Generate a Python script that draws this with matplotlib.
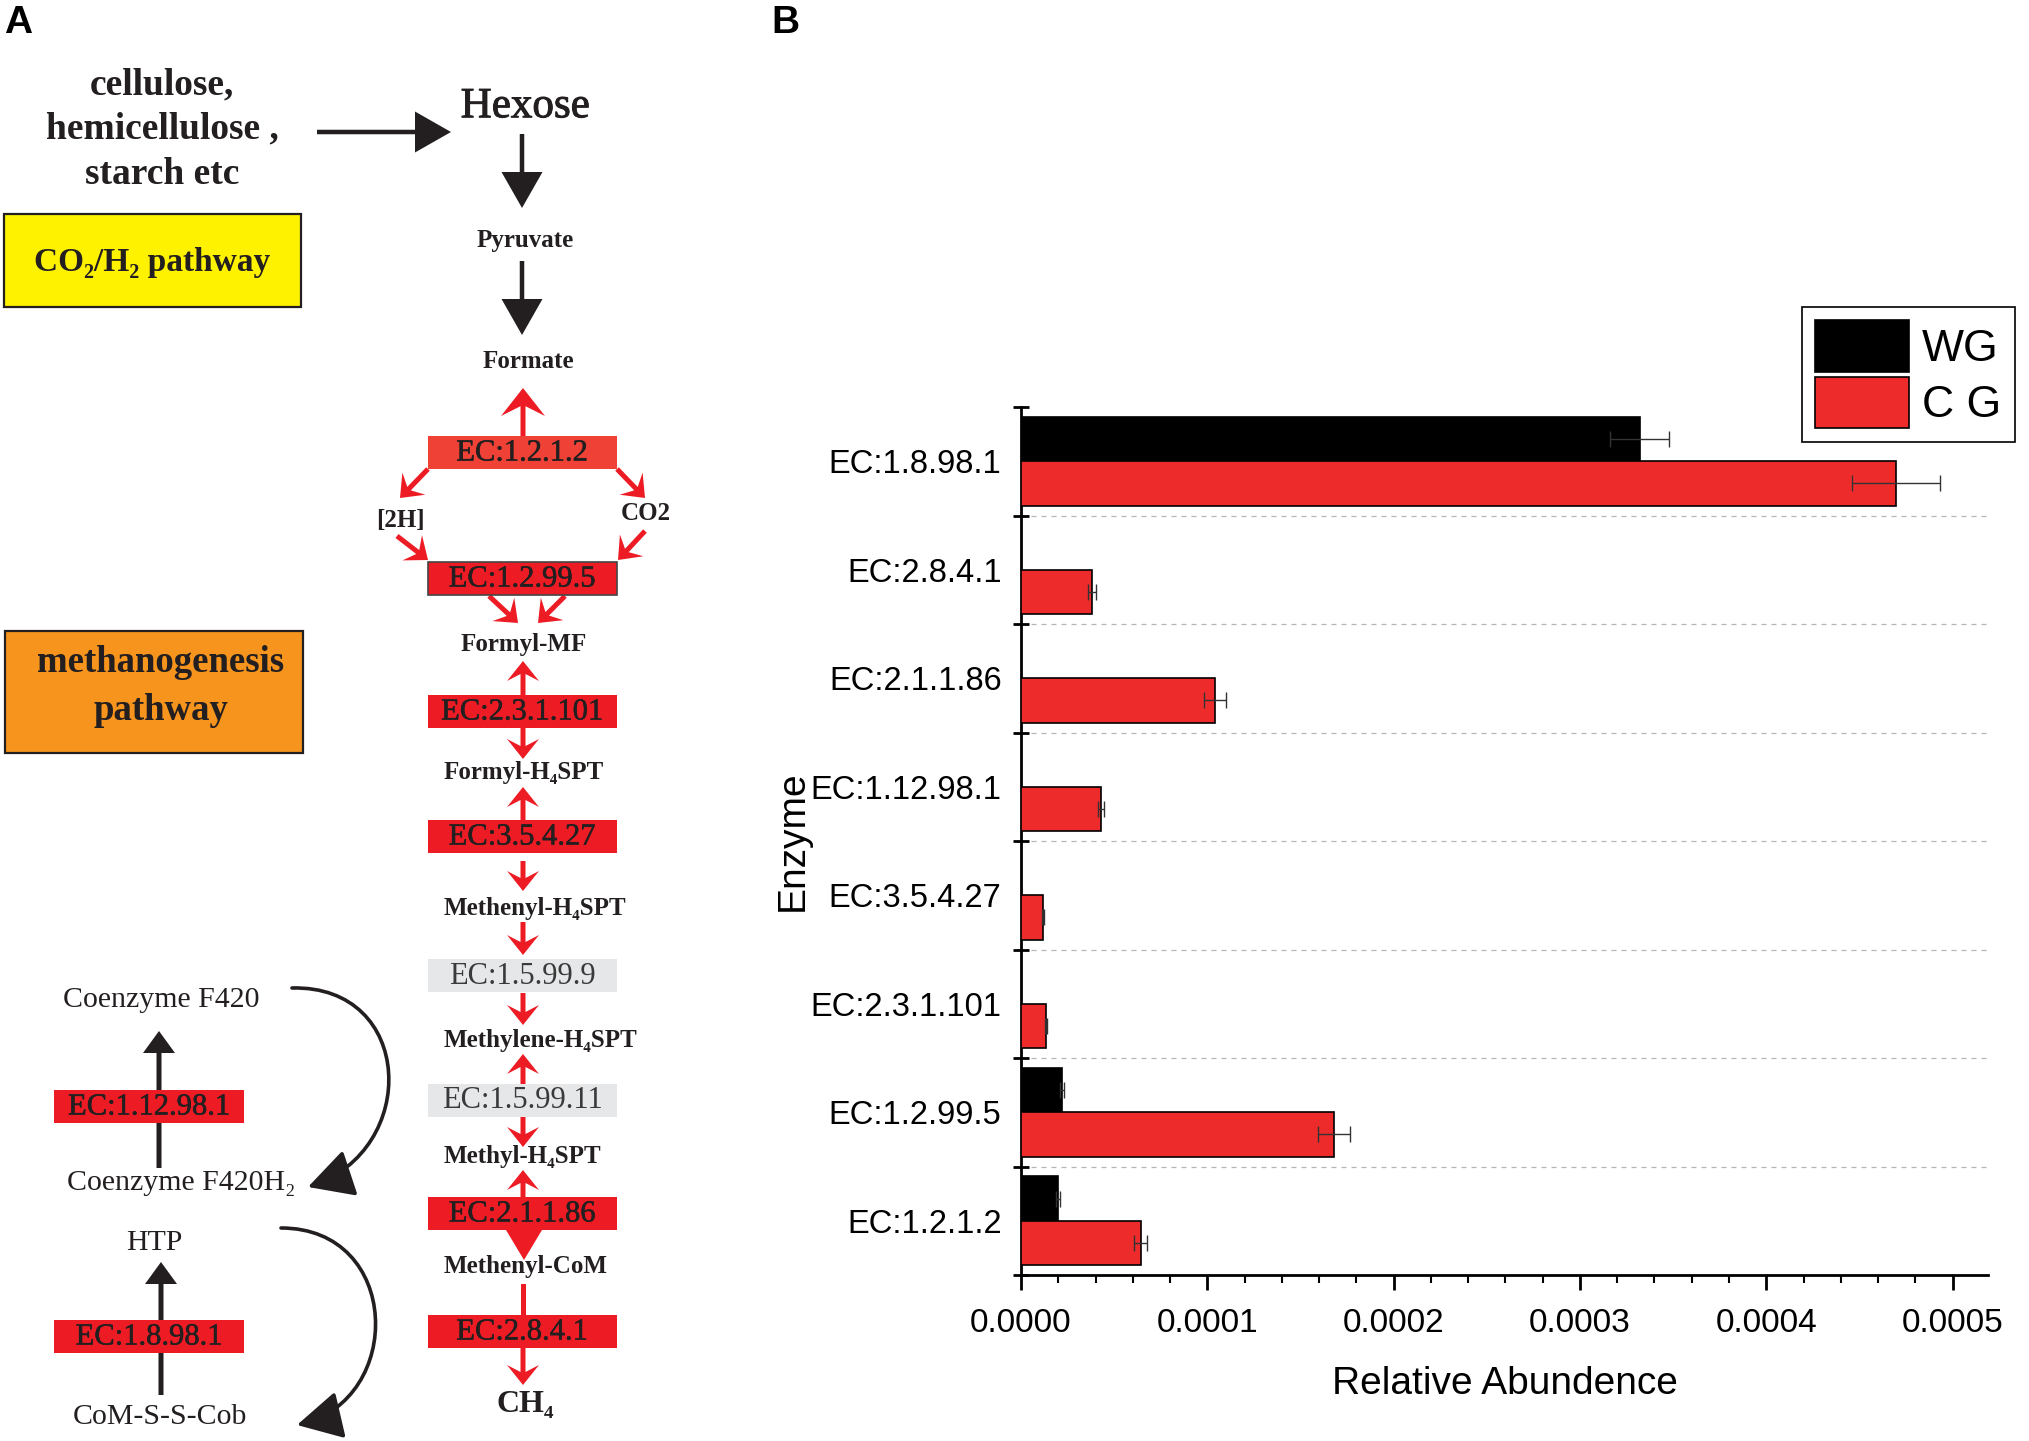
import numpy as np
import matplotlib
matplotlib.use('Agg')
import matplotlib.pyplot as plt
import matplotlib.patheffects as pe
from matplotlib.patches import Rectangle, Polygon, FancyArrowPatch, ArrowStyle
from matplotlib.path import Path
from matplotlib.ticker import MultipleLocator

plt.rcParams['font.family'] = ['Liberation Sans', 'DejaVu Sans']
SERIF = ['Liberation Serif', 'DejaVu Serif']

# ---- panel B data (listed bottom to top) ----
enzymes = ['EC:1.2.1.2', 'EC:1.2.99.5', 'EC:2.3.1.101', 'EC:3.5.4.27',
           'EC:1.12.98.1', 'EC:2.1.1.86', 'EC:2.8.4.1', 'EC:1.8.98.1']
wg = np.array([0.0000197, 0.0000222, 0, 0, 0, 0, 0, 0.000332])
wg_err = np.array([0.000001, 0.000001, 0, 0, 0, 0, 0, 0.000016])
cg = np.array([0.0000642, 0.000168, 0.0000132, 0.0000118,
               0.0000429, 0.000104, 0.0000381, 0.0004695])
cg_err = np.array([0.0000036, 0.0000088, 0.0000005, 0.0000005,
                   0.0000014, 0.0000059, 0.000002, 0.0000236])
groups = ['WG', 'C G']
group_colors = ['#000000', '#ee2b2b']
xticks = [0, 0.0001, 0.0002, 0.0003, 0.0004, 0.0005]
xtick_labels = ['0.0000', '0.0001', '0.0002', '0.0003', '0.0004', '0.0005']

# ---- panel A labels ----
chain_boxes = ['EC:1.2.1.2', 'EC:1.2.99.5', 'EC:2.3.1.101', 'EC:3.5.4.27',
               'EC:1.5.99.9', 'EC:1.5.99.11', 'EC:2.1.1.86', 'EC:2.8.4.1']
chain_colors = ['#ef4136', '#ed1c24', '#ed1c24', '#ed1c24',
                '#e6e7e8', '#e6e7e8', '#ed1c24', '#ed1c24']
chain_tops = [436, 562, 695, 820, 959, 1084, 1197, 1315]
chain_nodes = ['Formyl-H₄SPT', 'Methenyl-H₄SPT', 'Methylene-H₄SPT',
               'Methyl-H₄SPT', 'Methenyl-CoM']
chain_node_y = [773, 908, 1040, 1156, 1267]
side_boxes = ['EC:1.12.98.1', 'EC:1.8.98.1']
side_tops = [1090, 1320]
side_labels = ['Coenzyme F420', 'Coenzyme F420H₂', 'HTP', 'CoM-S-S-Cob']
side_label_pos = [(161, 1000), (181, 1183), (154, 1243), (160, 1417)]

W, H = 2029, 1441
RED = '#ed1c24'
DARK = '#231f20'

fig = plt.figure(figsize=(W / 100, H / 100), dpi=100)

# diagram drawn in pixel coordinates
axd = fig.add_axes([0, 0, 1, 1])
axd.set_xlim(0, W)
axd.set_ylim(H, 0)
axd.axis('off')


def red_arrow(x0, y0, x1, y1, hw=32, hl=20):
    axd.arrow(x0, y0, x1 - x0, y1 - y0, width=5, head_width=hw, head_length=hl,
              overhang=0.35, length_includes_head=True, color=RED, lw=0)


def black_arrow(x0, y0, x1, y1, w=4.5, hw=41, hl=36):
    axd.arrow(x0, y0, x1 - x0, y1 - y0, width=w, head_width=hw, head_length=hl,
              length_includes_head=True, color=DARK, lw=0)


def curved_arrow(pts):
    path = Path(pts, [Path.MOVETO, Path.CURVE4, Path.CURVE4, Path.CURVE4])
    arr = FancyArrowPatch(path=path, transform=axd.transData,
                          arrowstyle=ArrowStyle('-|>', head_length=28, head_width=15),
                          mutation_scale=1, color=DARK, lw=2.6)
    axd.add_patch(arr)


heavy = [pe.withStroke(linewidth=0.4, foreground=DARK)]

# panel letters
axd.text(4, 23, 'A', fontsize=28, fontweight='bold', ha='left', va='center')
axd.text(771, 23, 'B', fontsize=28, fontweight='bold', ha='left', va='center')

# top part
for txt, yy in zip(['cellulose,', 'hemicellulose ,', 'starch etc'], [85, 129, 174]):
    axd.text(162, yy, txt, fontsize=27, fontweight='bold', family=SERIF,
             ha='center', va='center', color=DARK)
black_arrow(317, 132, 451, 132)
axd.text(525, 107, 'Hexose', fontsize=31, family=SERIF, ha='center', va='center',
         color=DARK, path_effects=[pe.withStroke(linewidth=0.7, foreground=DARK)])
black_arrow(522, 134, 522, 208)
axd.text(525, 241, 'Pyruvate', fontsize=18, fontweight='bold', family=SERIF,
         ha='center', va='center', color=DARK)
black_arrow(522, 261, 522, 335)
axd.text(528, 362, 'Formate', fontsize=18, fontweight='bold', family=SERIF,
         ha='center', va='center', color=DARK)

# pathway boxes
axd.add_patch(Rectangle((4, 214), 297, 93, facecolor='#fff200', edgecolor=DARK, lw=1.6))
axd.text(152, 262, 'CO₂/H₂ pathway', fontsize=24, fontweight='bold', family=SERIF,
         ha='center', va='center', color=DARK)
axd.add_patch(Rectangle((5, 631), 298, 122, facecolor='#f7941d', edgecolor=DARK, lw=1.6))
axd.text(161, 663, 'methanogenesis', fontsize=26.5, fontweight='bold', family=SERIF,
         ha='center', va='center', color=DARK)
axd.text(161, 710, 'pathway', fontsize=26.5, fontweight='bold', family=SERIF,
         ha='center', va='center', color=DARK)

# red arrows of the chain (drawn under the boxes)
red_arrow(523, 436, 523, 388, hw=44, hl=28)
red_arrow(428, 469, 400, 498)
red_arrow(617, 469, 645, 498)
red_arrow(397, 536, 428, 560)
red_arrow(645, 531, 618, 560)
red_arrow(489, 596, 518, 623)
red_arrow(565, 596, 538, 623)
red_arrow(523, 695, 523, 661)
red_arrow(523, 727, 523, 759)
red_arrow(523, 820, 523, 787)
red_arrow(523, 861, 523, 891)
red_arrow(523, 922, 523, 955)
red_arrow(523, 993, 523, 1025)
red_arrow(523, 1084, 523, 1054)
red_arrow(523, 1117, 523, 1147)
red_arrow(523, 1197, 523, 1170)
axd.plot([523, 523], [1286, 1315], color=RED, lw=3.6)
red_arrow(523, 1348, 523, 1385)
axd.add_patch(Polygon([(506, 1230), (542, 1230), (524, 1260)], closed=True,
                      facecolor=RED, lw=0))

for name, col, top in zip(chain_boxes, chain_colors, chain_tops):
    edge = '#444444' if name == 'EC:1.2.99.5' else 'none'
    axd.add_patch(Rectangle((428, top), 189, 33, facecolor=col, edgecolor=edge, lw=1.2))
    grey = col == '#e6e7e8'
    if grey:
        axd.text(522, top + 17, name, fontsize=22, family=SERIF, ha='center',
                 va='center', color='#3a3a3a')
    else:
        axd.text(522, top + 17, name, fontsize=22, family=SERIF, ha='center',
                 va='center', color=DARK, path_effects=heavy)

axd.text(400, 520, '[2H]', fontsize=18, fontweight='bold', family=SERIF,
         ha='center', va='center', color=DARK)
axd.text(646, 513, 'CO2', fontsize=18, fontweight='bold', family=SERIF,
         ha='center', va='center', color=DARK)
axd.text(524, 645, 'Formyl-MF', fontsize=18, fontweight='bold', family=SERIF,
         ha='center', va='center', color=DARK)
for name, yy in zip(chain_nodes, chain_node_y):
    axd.text(444, yy, name, fontsize=18, fontweight='bold', family=SERIF,
             ha='left', va='center', color=DARK)
axd.text(525, 1405, 'CH₄', fontsize=23, fontweight='bold', family=SERIF,
         ha='center', va='center', color=DARK)

# left cycle
black_arrow(159, 1168, 159, 1031, w=5, hw=32, hl=22)
black_arrow(161, 1395, 161, 1262, w=5, hw=32, hl=22)
for name, top in zip(side_boxes, side_tops):
    axd.add_patch(Rectangle((54, top), 190, 33, facecolor=RED, lw=0))
    axd.text(149, top + 17, name, fontsize=22, family=SERIF, ha='center', va='center',
             color=DARK, path_effects=heavy)
for name, (xx, yy) in zip(side_labels, side_label_pos):
    axd.text(xx, yy, name, fontsize=21.5, family=SERIF, ha='center', va='center',
             color=DARK)
curved_arrow([(292, 988), (415, 985), (420, 1150), (308, 1187)])
curved_arrow([(281, 1228), (402, 1228), (405, 1400), (297, 1425)])

# ---- panel B: bar chart ----
ax = fig.add_axes([1021 / W, 1 - 1275 / H, 967 / W, 868 / H])
ax.patch.set_alpha(0)
y = np.arange(len(enzymes))
m = wg > 0
ax.barh(y[m] + 0.205, wg[m], height=0.41, color=group_colors[0], edgecolor='black',
        lw=1.2, label=groups[0], zorder=3)
ax.errorbar(wg[m], y[m] + 0.205, xerr=wg_err[m], fmt='none', ecolor='#333333',
            elinewidth=1, capsize=6, capthick=1, zorder=4)
ax.barh(y - 0.205, cg, height=0.41, color=group_colors[1], edgecolor='black',
        lw=1.2, label=groups[1], zorder=3)
ax.errorbar(cg, y - 0.205, xerr=cg_err, fmt='none', ecolor='#333333',
            elinewidth=1, capsize=6, capthick=1, zorder=4)

for b in np.arange(0.5, len(enzymes) - 1, 1):
    ax.axhline(b, color='#b5b5b5', lw=0.9, ls=(0, (4, 4)), zorder=1)

ax.set_xlim(0, 0.000519)
ax.set_ylim(-0.5, len(enzymes) - 0.5)
for s in ['top', 'right']:
    ax.spines[s].set_visible(False)
for s in ['left', 'bottom']:
    ax.spines[s].set_linewidth(2)

ax.set_yticks(np.arange(-0.5, len(enzymes), 1))
ax.set_yticklabels([])
ax.set_yticks(y, enzymes, minor=True)
ax.tick_params(axis='y', which='major', direction='inout', length=11.5, width=2)
ax.tick_params(axis='y', which='minor', length=0, pad=14, labelsize=23.5)
ax.set_xticks(xticks, xtick_labels)
ax.xaxis.set_minor_locator(MultipleLocator(0.00002))
ax.tick_params(axis='x', which='major', direction='out', length=11, width=2,
               labelsize=24, pad=13)
ax.tick_params(axis='x', which='minor', direction='out', length=5.5, width=1.5)

ax.set_xlabel('Relative Abundence', fontsize=28)
ax.xaxis.set_label_coords(0.5, -0.105)
ax.set_ylabel('Enzyme', fontsize=28)
ax.yaxis.set_label_coords(-0.217, 0.5)

leg = ax.legend(loc='upper left', bbox_to_anchor=(1802 / W, 1 - 307 / H),
                bbox_transform=fig.transFigure, fontsize=32, frameon=True,
                fancybox=False, framealpha=1, edgecolor='black', borderaxespad=0,
                handlelength=2.1, handleheight=1.4, handletextpad=0.3,
                labelspacing=0.12, borderpad=0.3)
leg.get_frame().set_linewidth(1.2)

fig.savefig('out.png', dpi=100)
